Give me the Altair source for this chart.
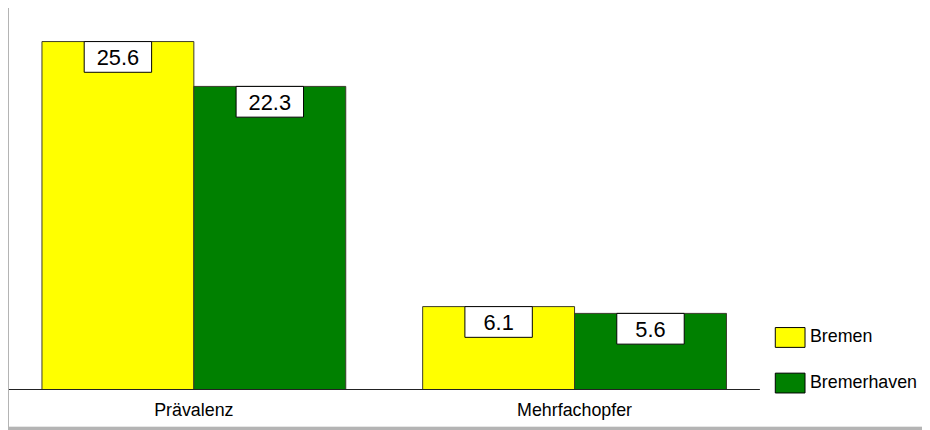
import altair as alt
import pandas as pd

categories = ["Prävalenz", "Mehrfachopfer"]
series = ["Bremen", "Bremerhaven"]
bremen = [25.6, 6.1]
bremerhaven = [22.3, 5.6]
colors = ["#FFFF00", "#008000"]

rows = []
for i, c in enumerate(categories):
    rows.append({"cat": c, "series": series[0], "value": bremen[i], "label": f"{bremen[i]:.1f}"})
    rows.append({"cat": c, "series": series[1], "value": bremerhaven[i], "label": f"{bremerhaven[i]:.1f}"})
df = pd.DataFrame(rows)

FONT = "Liberation Sans"

x_enc = alt.X("cat:N", sort=categories, title=None,
              scale=alt.Scale(paddingInner=0.202, paddingOuter=0.0866),
              axis=alt.Axis(domain=False, ticks=False, labelAngle=0, labelFontSize=18,
                            labelColor="black", labelFont=FONT, labelPadding=12,
                            zindex=2))
xo_enc = alt.XOffset("series:N", sort=series, scale=alt.Scale(paddingInner=0, paddingOuter=0))
y_enc = alt.Y("value:Q", scale=alt.Scale(domain=[0, 27.57], nice=False, zero=True), axis=None)

bg = alt.Chart(df).mark_rect(color="white").encode(
    x=alt.value(0), x2=alt.value(940), y=alt.value(-8), y2=alt.value(415)
)

bars = alt.Chart(df).mark_bar(stroke="#3a3a2a", strokeWidth=1).encode(
    x=x_enc, xOffset=xo_enc, y=y_enc,
    color=alt.Color("series:N", sort=series, title=None,
                    scale=alt.Scale(domain=series, range=colors),
                    legend=alt.Legend(orient="none", legendX=777.5, legendY=315,
                                      symbolType="M-1.5,-1H1.5V1H-1.5Z", symbolSize=400,
                                      symbolStrokeColor="black", symbolStrokeWidth=1,
                                      symbolOpacity=1, labelFontSize=18, labelFont=FONT,
                                      labelColor="black", labelOffset=9.5, rowPadding=21,
                                      padding=0, zindex=2))
)

base_rule = alt.Chart(df).mark_rule(color="#222222", strokeWidth=1).encode(
    y=alt.value(378), x=alt.value(0), x2=alt.value(757)
)

boxes = alt.Chart(df).mark_point(
    shape="M-2.194,-1H2.194V1H-2.194Z", size=961, filled=True, fill="white",
    stroke="black", strokeWidth=1, opacity=1, yOffset=15.5
).encode(x=x_enc, xOffset=xo_enc, y=y_enc)

texts = alt.Chart(df).mark_text(
    fontSize=22, font=FONT, color="black", baseline="middle", yOffset=16.5
).encode(x=x_enc, xOffset=xo_enc, y=y_enc, text="label:N")

chart = alt.layer(bg, bars, base_rule, boxes, texts).properties(
    width=757, height=378,
    padding={"left": 1, "top": 5, "right": 164, "bottom": 39},
    autosize="none",
    background="#b4b4b4",
).configure_view(stroke=None)

chart.save("out.html", embed_options={"renderer": "svg", "actions": False})
